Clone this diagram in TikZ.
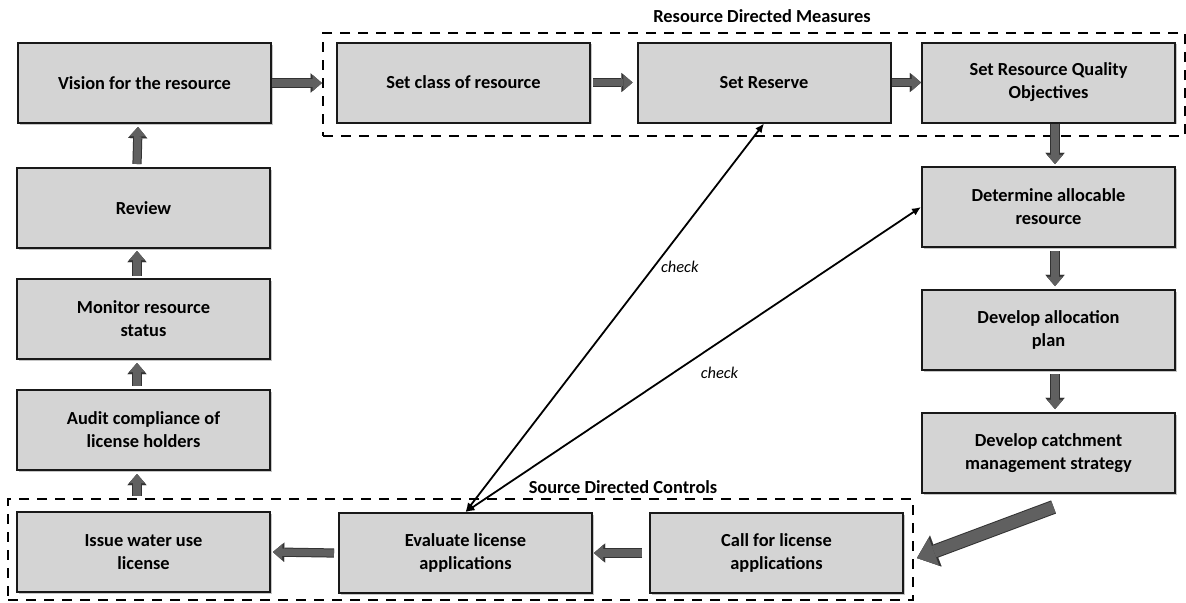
\documentclass[tikz,border=0pt]{standalone}
\usepackage{fontspec}
\setmainfont{Carlito}
\usetikzlibrary{arrows.meta,shadows,calc}

\definecolor{boxgray}{RGB}{212,212,212}
\definecolor{flowgray}{RGB}{96,96,96}

\tikzset{
  stage/.style={draw=black!90, line width=1pt, fill=boxgray, minimum width=126.5pt,
    minimum height=40pt, align=center, font=\bfseries\fontsize{9.2}{11.5}\selectfont,
    drop shadow={shadow xshift=0.8pt, shadow yshift=-0.8pt, opacity=0.45}},
  groupbox/.style={draw, dash pattern=on 5pt off 4pt, line width=1.2pt, inner sep=0pt},
  title/.style={font=\bfseries\fontsize{9.2}{11}\selectfont},
  flow/.style={draw=flowgray, line width=3.6pt, -{Triangle[length=4.6pt,width=8pt,line width=0.01pt]},
    preaction={draw=black!80, line width=4.6pt, -{Triangle[length=5.6pt,width=9.6pt,line width=0.01pt]}}},
  bigflow/.style={draw=flowgray, line width=6pt, -{Triangle[length=9pt,width=14.5pt,line width=0.01pt]},
    preaction={draw=black!80, line width=7pt, -{Triangle[length=10pt,width=16.5pt,line width=0.01pt]}}},
  checkline/.style={{Latex[length=4.5pt,width=4pt]}-{Latex[length=4.5pt,width=4pt]}, line width=0.9pt},
  checklabel/.style={font=\itshape\fontsize{8.2}{10}\selectfont},
}

\begin{document}
\begin{tikzpicture}[x=0.5pt,y=-0.5pt]
  \useasboundingbox (0,0) rectangle (1186,602);

  % Dashed groups
  \node[groupbox, minimum width=431pt, minimum height=51.5pt] (rdm) at (754,84.5) {};
  \node[groupbox, minimum width=452.5pt, minimum height=50.5pt] (sdc) at (460.5,549.5) {};
  \node[title] (rdmtitle) at (762,16) {Resource Directed Measures};
  \node[title] (sdctitle) at (623,487) {Source Directed Controls};

  % Left column
  \node[stage] (vision) at (144.5,83) {Vision for the resource};
  \node[stage] (review) at (143.5,208) {Review};
  \node[stage] (monitor) at (143.5,319) {Monitor resource\\status};
  \node[stage] (audit) at (143.5,430) {Audit compliance of\\license holders};

  % Top row
  \node[stage] (setclass) at (463.5,82.5) {Set class of resource};
  \node[stage] (reserve) at (764,82.5) {Set Reserve};
  \node[stage] (rqo) at (1048.5,82.5) {Set Resource Quality\\Objectives};

  % Right column
  \node[stage] (determine) at (1048.5,207) {Determine allocable\\resource};
  \node[stage] (plan) at (1048.5,330) {Develop allocation\\plan};
  \node[stage] (catchment) at (1048.5,453) {Develop catchment\\management strategy};

  % Bottom row
  \node[stage] (call) at (776.5,553) {Call for license\\applications};
  \node[stage] (evaluate) at (465.5,553) {Evaluate license\\applications};
  \node[stage] (issue) at (143.5,552) {Issue water use\\license};

  % Flow arrows
  \draw[flow] (vision.east) -- (rdm.west |- vision.east);
  \draw[flow] ([xshift=1pt]setclass.east) -- ([xshift=-2pt]reserve.west);
  \draw[flow] (reserve.east) -- (rqo.west);
  \draw[flow] ($(rqo.south)+(6.5,0)$) -- ($(determine.north)+(6.5,-2)$);
  \draw[flow] ($(determine.south)+(6.5,3)$) -- ($(plan.north)+(6.5,-3)$);
  \draw[flow] ($(plan.south)+(6.5,3)$) -- ($(catchment.north)+(6.5,-3)$);
  \coordinate (callin) at (917,558);
  \draw[bigflow] ($(catchment.south)+(5,13)$) -- (callin);
  \draw[flow] ([xshift=-3.5pt]call.west) -- ([xshift=0.5pt]evaluate.east);
  \draw[flow] ([xshift=-2pt]evaluate.west) -- ([xshift=1pt]issue.east);
  \draw[flow] ($(sdc.north -| issue.north)+(-6.5,-2)$) -- ($(audit.south)+(-6.5,3)$);
  \draw[flow] ($(audit.north)+(-6.5,-3)$) -- ($(monitor.south)+(-6.5,3)$);
  \draw[flow] ($(monitor.north)+(-6.5,-2)$) -- ($(review.south)+(-6.5,2)$);
  \draw[flow] ($(review.north)+(-6.5,-3)$) -- ($(vision.south)+(-6.5,3)$);

  % Check lines
  \draw[checkline] (evaluate.north) -- node[pos=0.63, right, checklabel] {check} (reserve.south);
  \draw[checkline] (evaluate.north) -- node[pos=0.5, below right, checklabel] {check} (determine.west);
\end{tikzpicture}
\end{document}
